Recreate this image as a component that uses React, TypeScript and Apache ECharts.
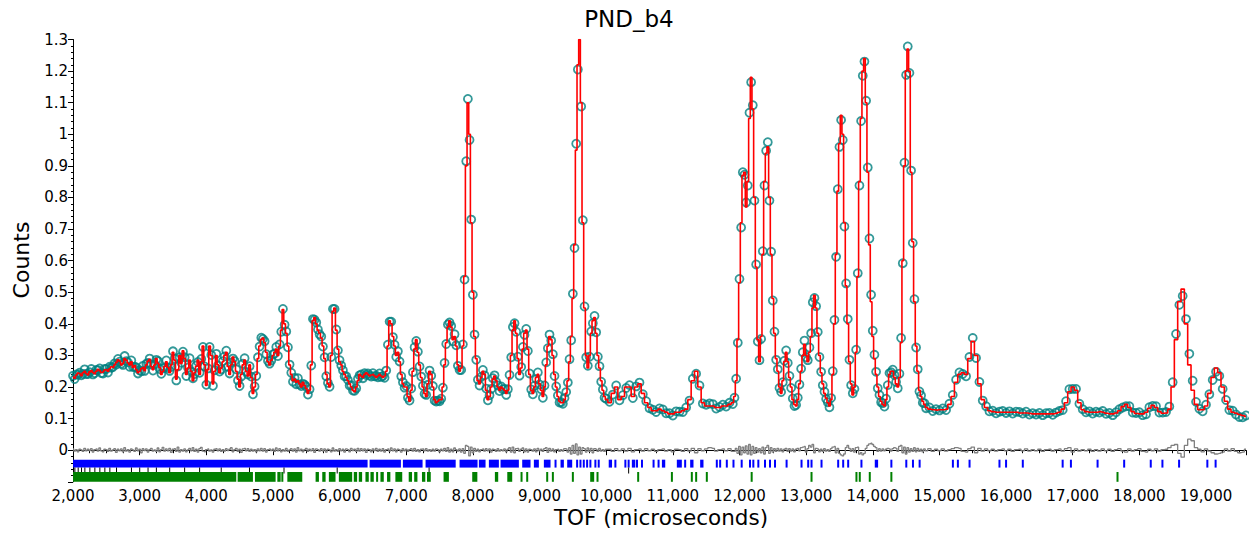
import React, { useEffect, useRef } from "react";
import * as echarts from "echarts";

// Powder diffraction profile, sample PND_b4 (time-of-flight).
// Each segment is sampled on its own even TOF step.
const segStartA = 2000, segStepA = 25;
const calcA = [
  0.232, 0.228, 0.238, 0.244, 0.242, 0.236, 0.245, 0.25, 0.243, 0.238,
  0.248, 0.252, 0.246, 0.242, 0.25, 0.256, 0.252, 0.246, 0.248, 0.254,
  0.255, 0.25, 0.258, 0.264, 0.262, 0.27, 0.278, 0.286, 0.282, 0.27,
  0.275, 0.29, 0.285, 0.276, 0.27, 0.28, 0.262, 0.268, 0.255, 0.245,
  0.25, 0.258, 0.262, 0.252, 0.27, 0.282, 0.288, 0.265, 0.255, 0.27,
  0.29, 0.275, 0.262, 0.24, 0.25, 0.265, 0.28, 0.262, 0.245, 0.27,
  0.31, 0.285, 0.225, 0.255, 0.3, 0.275, 0.315, 0.29, 0.24, 0.26,
  0.285, 0.25, 0.22, 0.245, 0.265, 0.285, 0.24, 0.28, 0.33, 0.27,
  0.205, 0.255, 0.33, 0.3, 0.21, 0.25, 0.3, 0.27, 0.245, 0.26,
  0.28, 0.3, 0.31, 0.265, 0.24, 0.27, 0.295, 0.28, 0.25, 0.225,
  0.2, 0.24, 0.27, 0.285, 0.25, 0.235, 0.27, 0.23, 0.18, 0.2,
  0.24, 0.29, 0.33, 0.35, 0.355, 0.34, 0.31, 0.28, 0.27, 0.285,
  0.3, 0.31, 0.32, 0.3, 0.33, 0.38, 0.445, 0.4, 0.37, 0.33,
  0.27, 0.24, 0.22, 0.225, 0.215, 0.22, 0.21, 0.2, 0.215, 0.205,
  0.195, 0.18, 0.19, 0.27, 0.41, 0.42, 0.4, 0.38, 0.37, 0.355,
  0.33, 0.29, 0.24, 0.21, 0.2, 0.3, 0.44, 0.45, 0.38, 0.32,
  0.28, 0.27, 0.25, 0.24, 0.23, 0.22, 0.21, 0.2, 0.19, 0.185,
  0.2, 0.22, 0.24, 0.235, 0.23, 0.24, 0.245, 0.24, 0.235, 0.238,
  0.24, 0.235, 0.23, 0.235, 0.24, 0.235, 0.23, 0.235, 0.25, 0.33,
  0.41, 0.4, 0.36, 0.33, 0.3, 0.31, 0.28, 0.24, 0.21, 0.2,
  0.2, 0.17, 0.155, 0.19, 0.25, 0.32, 0.35, 0.31, 0.27, 0.23,
  0.2, 0.18, 0.17, 0.21, 0.25, 0.24, 0.2,
];
// observed minus calculated, in thousandths of a count
const residA = [
  4, -3, 2, -5, 3, 1, -4, 6, -2, 3,
  -1, 5, -6, 2, 4, -3, 7, -2, -5, 3,
  2, -4, 6, -3, 1, 5, -7, 3, -2, 4,
  -5, 8, -3, 2, -6, 4, 1, -4, 7, -2,
  3, -8, 5, -1, 4, -6, 2, 6, -3, 1,
  -4, 7, -5, 2, 9, -3, 4, -2, 6, -7,
  3, 5, -4, 10, -6, 2, -3, 4, -5, 1,
  6, -2, 8, -4, 3, -6, 5, 9, -3, -5,
  2, 4, -3, 1, -6, 3, 5, -2, 4, -4,
  2, -3, 5, -1, 3, 8, -5, 2, 6, -4,
  3, -7, 4, 6, -2, 5, -4, 3, -3, 2,
  -5, 4, -2, 6, -3, 5, -6, 2, 4, -1,
  3, -4, 7, -2, 5, -5, 2, -3, 6, -4,
  1, 5, -3, 4, -6, 8, -2, 3, -5, 2,
  6, -4, 3, -2, 5, -7, 4, 2, -3, 5,
  -2, 4, -6, 3, 1, -5, 7, -3, 2, -4,
  5, -2, 3, -6, 4, 2, -5, 6, -1, 3,
  -4, 6, -3, 5, -2, 4, -7, 3, 2, -5,
  4, -1, 6, -4, 3, -3, 5, -6, 2, 4,
  -3, 7, -2, 4, -5, 3, 1, -6, 5, -2,
  3, -4, 2, 5, -3, 6, -4, 2, -5, 3,
  4, -2, 5, -3, 2, -4, 3,
];

const segStartB = 7425, segStepB = 25;
const calcB = [
  0.16, 0.15, 0.155, 0.16, 0.16, 0.2, 0.27, 0.34, 0.39, 0.41,
  0.39, 0.35, 0.36, 0.33, 0.27, 0.25, 0.26, 0.33, 0.55, 0.9,
  1.1, 1.0, 0.72, 0.5, 0.36, 0.29, 0.22, 0.21, 0.23, 0.25,
  0.24, 0.19, 0.16, 0.17, 0.2, 0.225, 0.235, 0.22, 0.2, 0.19,
  0.2, 0.195, 0.19, 0.18, 0.19, 0.23, 0.3, 0.38, 0.41, 0.37,
  0.29, 0.24, 0.26, 0.32, 0.37, 0.38, 0.32, 0.24, 0.19, 0.18,
  0.2, 0.23, 0.24, 0.21, 0.19, 0.17, 0.2, 0.27, 0.33, 0.36,
  0.35, 0.3, 0.24, 0.2, 0.17, 0.155, 0.15, 0.15, 0.16, 0.18,
  0.22, 0.28, 0.36, 0.48, 0.65, 0.95, 1.22, 1.3, 1.1, 0.72,
  0.45, 0.3, 0.26, 0.3, 0.37, 0.41, 0.42, 0.37, 0.3, 0.26,
  0.22, 0.19, 0.17, 0.16,
];
const residB = [
  -3, 4, 2, -5, 3, -2, 6, -4, 8, -6,
  3, -5, 7, 2, -3, 4, -6, 5, -10, 15,
  12, -18, 10, -8, 6, -4, 3, -5, 2, 4,
  -3, 5, -2, 4, -6, 3, 2, -4, 5, -3,
  2, -2, 4, -5, 3, 8, -6, 10, -8, 5,
  6, -4, 3, 7, -5, 4, -6, 3, 2, -3,
  4, -5, 6, -2, 3, -4, 5, 8, -7, 6,
  -3, 4, -5, 2, 3, -4, 2, -3, 5, 4,
  -6, 8, -12, 15, -10, 20, -15, 10, -12, 8,
  5, -6, 7, -4, 6, -8, 5, 3, -4, 6,
  -3, 2, -4, 3,
];

const segStartC = 10050, segStepC = 50;
const calcC = [
  0.15, 0.18, 0.2, 0.16, 0.17, 0.2, 0.2, 0.17, 0.2, 0.21,
  0.18, 0.15, 0.135, 0.125, 0.125, 0.13, 0.125, 0.12, 0.115, 0.115,
  0.12, 0.12, 0.125, 0.13, 0.16, 0.22, 0.25, 0.2, 0.15, 0.14,
  0.14, 0.14, 0.135, 0.135, 0.14, 0.14, 0.145, 0.15,
];
const residC = [
  3, -4, 5, -2, 4, -3, 6, -5, 2, 4,
  -3, 5, -2, 3, -4, 2, 4, -3, 2, -5,
  3, 2, -4, 5, -3, 6, -8, 5, -2, 4,
  8, 6, -3, 2, 4, -2, 5, -4,
];

const segStartD = 11925, segStepD = 25;
const calcD = [
  0.17, 0.22, 0.35, 0.53, 0.72, 0.87, 0.88, 0.77, 0.85, 1.05,
  1.18, 1.08, 0.8, 0.58, 0.35, 0.28, 0.36, 0.62, 0.85, 0.94,
  0.96, 0.8, 0.62, 0.48, 0.37, 0.29, 0.25, 0.2, 0.18, 0.22,
  0.28, 0.31, 0.28, 0.23, 0.2, 0.16, 0.145, 0.14, 0.16, 0.21,
  0.25, 0.3, 0.335, 0.3, 0.28, 0.31, 0.36, 0.45, 0.49, 0.45,
  0.37, 0.3, 0.245, 0.21, 0.18, 0.165, 0.15, 0.14, 0.16, 0.24,
  0.4, 0.62, 0.82, 0.97, 1.06, 1.0, 0.72, 0.52, 0.4, 0.28,
  0.21, 0.175, 0.2, 0.31, 0.55, 0.85, 1.05, 1.2, 1.24, 1.1,
  0.88, 0.65, 0.47, 0.36, 0.29, 0.24, 0.2, 0.17, 0.155, 0.145,
  0.14, 0.16, 0.2, 0.24, 0.25, 0.25, 0.23, 0.21, 0.2, 0.23,
  0.34, 0.6, 0.9, 1.2, 1.27, 1.2, 0.88, 0.66, 0.47, 0.33,
  0.25, 0.19, 0.17, 0.155, 0.145, 0.135,
];
const residD = [
  -4, 6, -10, 12, -15, 10, -8, 14, -12, 18,
  -15, 12, -10, 8, -6, 5, -8, 10, -12, 8,
  15, -10, 8, -6, 5, -4, 6, -3, 4, -5,
  3, 6, -4, 5, -3, 4, -5, 3, 6, -2,
  8, 10, 12, -6, 5, 15, 10, 18, -8, 6,
  4, -5, 3, -4, 5, -3, 2, -4, 5, 10,
  12, -8, 6, -10, -15, -18, -12, 8, 15, 6,
  -4, 5, -6, 8, 10, -12, -8, -15, -10, 6,
  15, 20, 22, 18, 12, 8, -4, 5, -3, 4,
  -2, 3, 6, 4, -3, 5, 8, 6, -4, 12,
  15, -8, 10, -12, 8, -6, 5, -4, 8, -5,
  6, -4, 3, -5, 4, -2,
];

const segStartE = 14850, segStepE = 50;
const calcE = [
  0.13, 0.128, 0.127, 0.128, 0.128, 0.13, 0.145, 0.17, 0.215, 0.24,
  0.245, 0.24, 0.29, 0.345, 0.3, 0.21, 0.16, 0.135, 0.125, 0.122,
  0.12, 0.12, 0.12, 0.12, 0.12, 0.12, 0.12, 0.118, 0.118, 0.118,
  0.116, 0.115, 0.115, 0.115, 0.115, 0.115, 0.115, 0.115, 0.117, 0.12,
  0.13, 0.15, 0.185, 0.2, 0.19, 0.15, 0.128, 0.122, 0.12, 0.12,
  0.12, 0.122, 0.12, 0.117, 0.115, 0.115, 0.118, 0.125, 0.138, 0.145,
  0.135, 0.122, 0.116, 0.115, 0.115, 0.12, 0.133, 0.142, 0.135, 0.122,
  0.117, 0.118, 0.13, 0.2, 0.35, 0.47, 0.51, 0.4, 0.27, 0.19,
  0.145, 0.128, 0.128, 0.14, 0.18, 0.23, 0.26, 0.245, 0.2, 0.155,
  0.13, 0.12, 0.117, 0.113, 0.11, 0.107,
];
const residE = [
  5, -4, 3, -2, 4, -3, 2, 5, 8, 6,
  -4, -6, 5, 10, -8, 6, -3, 4, -2, 3,
  -3, 2, 4, -2, 3, -4, 2, 3, -2, 4,
  -3, 2, -2, 3, -4, 2, 3, -3, 2, 4,
  -3, 5, 8, -6, 4, -3, 2, -2, 3, -4,
  2, -3, 4, -2, 3, -4, 2, 5, -3, -6,
  4, -3, 2, 5, -4, -6, 3, -2, 4, -3,
  2, 3, 8, 15, 18, -10, -22, 15, 35, 30,
  8, 3, -5, 4, -3, -8, -12, -10, -6, 4,
  -3, 5, -4, -8, -6, 3,
];

// Reflection markers, as TOF runs [from, to] (from === to for a single line)
const phase1Ticks = [
  [2000, 6420], [6450, 6920], [6950, 7245], [7290, 7742], [7800, 8070], [8090, 8190],
  [8240, 8390], [8415, 8690], [8740, 8865], [8915, 8990], [9065, 9165], [9240, 9265],
  [9315, 9365], [9415, 9490], [9564, 9589], [9614, 9639], [9664, 9689], [9714, 9739],
  [9763, 9788], [9838, 9863], [9888, 9888], [10038, 10088], [10138, 10138], [10288, 10312],
  [10337, 10360], [10385, 10437], [10462, 10487], [10537, 10537], [10711, 10711], [10786, 10811],
  [10836, 10886], [11060, 11135], [11185, 11210], [11260, 11310], [11410, 11460], [11660, 11685],
  [11710, 11710], [11810, 11835], [11910, 11935], [12033, 12033], [12158, 12158], [12208, 12233],
  [12283, 12283], [12383, 12408], [12458, 12483], [12533, 12533], [12707, 12707], [12931, 12956],
  [13031, 13056], [13081, 13106], [13231, 13256], [13481, 13506], [13556, 13581], [13631, 13656],
  [13830, 13855], [14030, 14080], [14279, 14279], [14503, 14503], [14603, 14603], [14703, 14728],
  [15202, 15202], [15277, 15277], [15452, 15477], [15901, 15901], [16000, 16026], [16251, 16276],
  [16849, 16849], [16973, 16973], [17373, 17373], [17772, 17797], [18171, 18171], [18346, 18371],
  [18596, 18596], [19020, 19045], [19144, 19144],
];
const phase2Ticks = [
  [2000, 4450], [4470, 4700], [4730, 5040], [5066, 5116], [5141, 5166], [5216, 5440],
  [5640, 5690], [5740, 5790], [5839, 5939], [5989, 6189], [6213, 6263], [6288, 6338],
  [6388, 6438], [6463, 6513], [6563, 6588], [6613, 6663], [6712, 6762], [6837, 6940],
  [7037, 7087], [7119, 7168], [7236, 7286], [7311, 7368], [7560, 7640], [7990, 8067],
  [8330, 8380], [8516, 8590], [8730, 8760], [8815, 8840], [9115, 9140], [9200, 9200],
  [9500, 9500], [9760, 9820], [9870, 9880], [10480, 10480], [10986, 10986], [11285, 11309],
  [11350, 11350], [11510, 11535], [12183, 12208], [13081, 13106], [13755, 13779], [13805, 13805],
  [13955, 13955], [14279, 14295], [17672, 17672],
];
const phase3Ticks = [
  [2028, 2028], [2078, 2078], [2128, 2128], [2178, 2178], [2253, 2253], [2328, 2328],
  [2403, 2403], [2478, 2478], [2553, 2553], [2653, 2653], [2877, 2877], [3001, 3001],
  [3126, 3126], [3251, 3251], [3451, 3451], [3675, 3675], [3900, 3900], [4224, 4224],
  [4648, 4648], [5166, 5166], [5964, 5964], [7343, 7343], [10337, 10337],
];

const segments = [
  { start: segStartA, step: segStepA, calc: calcA, resid: residA },
  { start: segStartB, step: segStepB, calc: calcB, resid: residB },
  { start: segStartC, step: segStepC, calc: calcC, resid: residC },
  { start: segStartD, step: segStepD, calc: calcD, resid: residD },
  { start: segStartE, step: segStepE, calc: calcE, resid: residE },
];

const FONT = "DejaVu Sans";

function buildProfile() {
  const obs: number[][] = [];
  const calc: number[][] = [];
  const diff: number[][] = [];
  segments.forEach((s) => {
    s.calc.forEach((c, i) => {
      const t = s.start + i * s.step;
      const r = (s.resid[i] ?? 0) / 1000;
      calc.push([t, c]);
      obs.push([t, Math.round((c + r) * 10000) / 10000]);
      diff.push([t, r]);
    });
  });
  return { obs, calc, diff };
}

function tickSeries(name: string, runs: number[][], yTop: number, yBottom: number, color: string, minW: number) {
  return {
    type: "custom",
    name,
    silent: true,
    z: 1,
    data: runs,
    encode: { x: [0, 1] },
    renderItem: (_params: any, api: any) => {
      const a = api.coord([api.value(0), yTop]);
      const b = api.coord([api.value(1), yBottom]);
      let x = a[0];
      let w = b[0] - a[0];
      if (w < minW) {
        x = a[0] - minW / 2;
        w = minW;
      }
      return {
        type: "rect",
        shape: { x, y: a[1], width: w, height: b[1] - a[1] },
        style: { fill: color },
      };
    },
  };
}

export default function App() {
  const ref = useRef<HTMLDivElement>(null);

  useEffect(() => {
    if (!ref.current) return;
    const chart = echarts.init(ref.current, null, { renderer: "svg" });
    const { obs, calc, diff } = buildProfile();

    chart.setOption({
      animation: false,
      backgroundColor: "#ffffff",
      textStyle: { fontFamily: FONT },
      grid: { left: 73, right: 0, top: 39.5, bottom: 57.2, containLabel: false },
      xAxis: {
        type: "value",
        min: 2000,
        max: 19600,
        interval: 1000,
        axisLine: { show: true, lineStyle: { color: "#000", width: 1 } },
        axisTick: { show: true, length: 5, lineStyle: { color: "#000" } },
        minorTick: { show: true, splitNumber: 4, length: 3, lineStyle: { color: "#000" } },
        splitLine: { show: false },
        axisLabel: {
          margin: 7,
          fontSize: 15,
          lineHeight: 15,
          fontFamily: FONT,
          color: "#000",
          formatter: (v: number) => (v % 1000 === 0 ? v.toLocaleString("en-US") : ""),
        },
      },
      yAxis: {
        type: "value",
        min: -0.1,
        max: 1.3,
        interval: 0.1,
        axisLine: { show: true, lineStyle: { color: "#000", width: 1 } },
        axisTick: { show: true, length: 5, lineStyle: { color: "#000" } },
        minorTick: { show: true, splitNumber: 5, length: 2, lineStyle: { color: "#000" } },
        splitLine: { show: false },
        axisLabel: {
          margin: 5,
          fontSize: 15,
          fontFamily: FONT,
          color: "#000",
          formatter: (v: number) => (v < -1e-9 ? "" : String(Math.round(v * 10) / 10)),
        },
      },
      graphic: [
        {
          type: "text",
          x: 629,
          y: 19,
          style: { text: "PND_b4", font: `23px '${FONT}'`, fill: "#000", align: "center", verticalAlign: "middle" },
        },
        {
          type: "text",
          x: 661,
          y: 517,
          style: { text: "TOF (microseconds)", font: `21.5px '${FONT}'`, fill: "#000", align: "center", verticalAlign: "middle" },
        },
        {
          type: "text",
          x: 21,
          y: 260,
          rotation: Math.PI / 2,
          style: { text: "Counts", font: `22px '${FONT}'`, fill: "#000", align: "center", verticalAlign: "middle" },
        },
      ],
      series: [
        tickSeries("Phase 1", phase1Ticks, -0.03, -0.055, "#0000ff", 2),
        tickSeries("Phase 3", phase3Ticks, -0.055, -0.074, "#000000", 1),
        tickSeries("Phase 2", phase2Ticks, -0.069, -0.1, "#008000", 2),
        {
          type: "line",
          name: "Difference",
          data: diff,
          step: "middle",
          showSymbol: false,
          symbol: "none",
          z: 2,
          lineStyle: { color: "#808080", width: 1.3 },
        },
        {
          type: "scatter",
          name: "Observed",
          data: obs,
          symbol: "circle",
          symbolSize: 8,
          z: 3,
          itemStyle: { color: "rgba(0,0,0,0)", borderColor: "#008080", borderWidth: 1.8 },
        },
        {
          type: "line",
          name: "Calculated",
          data: calc,
          step: "middle",
          showSymbol: false,
          symbol: "none",
          z: 4,
          lineStyle: { color: "#ff0000", width: 1.6 },
        },
      ],
    });

    return () => chart.dispose();
  }, []);

  return (
    <div
      ref={ref}
      style={{ position: "fixed", left: 0, top: 0, width: 1249, height: 539, background: "#fff" }}
    />
  );
}
